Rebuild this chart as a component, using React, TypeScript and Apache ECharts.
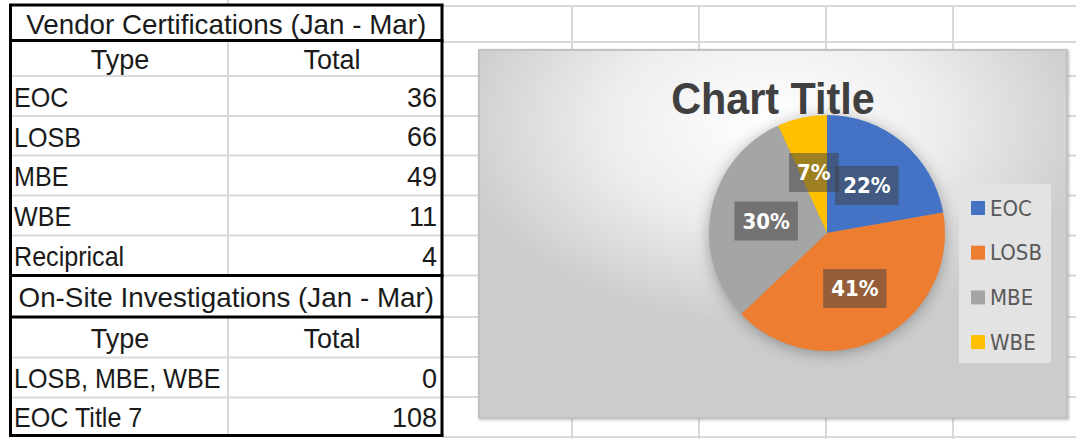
import React, { useEffect, useRef } from "react";
import * as echarts from "echarts";

// ---- data ----
const vendorTitle = "Vendor Certifications (Jan - Mar)";
const onsiteTitle = "On-Site Investigations (Jan - Mar)";
const headerLabels = ["Type", "Total"];
const vendorTypes = ["EOC", "LOSB", "MBE", "WBE", "Reciprical"];
const vendorTotals = [36, 66, 49, 11, 4];
const onsiteTypes = ["LOSB, MBE, WBE", "EOC Title 7"];
const onsiteTotals = [0, 108];
const pieCategories = ["EOC", "LOSB", "MBE", "WBE"];
const pieValues = [36, 66, 49, 11];
const pieColors = ["#4472C4", "#ED7D31", "#A5A5A5", "#FFC000"];
const chartTitle = "Chart Title";

// ---- layout ----
const COND = "'DejaVu Sans Condensed', 'DejaVu Sans', sans-serif";
const SANS = "'Liberation Sans', Arial, sans-serif";
const TABLE_L = 10.5;
const TABLE_R = 442;
const COL_X = 228;
const rowEdges = [5, 40.5, 76, 116, 155.5, 195.5, 235.5, 275.5, 317, 357.5, 397.5, 435.5];
const thickEdges = [0, 1, 7, 8, 11];
const sheetRowsY = [6, 42, 76, 116, 155.5, 195.5, 235.5, 275.5, 317, 357, 397, 437];
const sheetColsX = [572, 699, 826, 953];
const BOX = { x: 479, y: 50, w: 588, h: 368 };
const PIE_CX = 827;
const PIE_CY = 233;
const PIE_R = 118;
const GRID_COLOR = "#D9D9D9";

function buildGraphics() {
  const els: any[] = [];
  // spreadsheet grid
  sheetRowsY.forEach((y) =>
    els.push({ type: "line", z: 0, silent: true, shape: { x1: TABLE_R, y1: y, x2: 1076, y2: y }, style: { stroke: GRID_COLOR, lineWidth: 2 } })
  );
  sheetColsX.forEach((x) =>
    els.push({ type: "line", z: 0, silent: true, shape: { x1: x, y1: 6, x2: x, y2: 439 }, style: { stroke: GRID_COLOR, lineWidth: 2 } })
  );
  // table inner gray lines
  rowEdges.forEach((y, i) => {
    if (thickEdges.indexOf(i) < 0) {
      els.push({ type: "line", z: 0, silent: true, shape: { x1: TABLE_L, y1: y, x2: TABLE_R, y2: y }, style: { stroke: GRID_COLOR, lineWidth: 2 } });
    }
  });
  els.push({ type: "line", z: 0, silent: true, shape: { x1: COL_X, y1: 0, x2: COL_X, y2: rowEdges[0] }, style: { stroke: GRID_COLOR, lineWidth: 2 } });
  els.push({ type: "line", z: 0, silent: true, shape: { x1: COL_X, y1: rowEdges[1], x2: COL_X, y2: rowEdges[7] }, style: { stroke: GRID_COLOR, lineWidth: 2 } });
  els.push({ type: "line", z: 0, silent: true, shape: { x1: COL_X, y1: rowEdges[8], x2: COL_X, y2: rowEdges[11] }, style: { stroke: GRID_COLOR, lineWidth: 2 } });
  // table thick borders
  thickEdges.forEach((i) =>
    els.push({ type: "line", z: 0.5, silent: true, shape: { x1: TABLE_L - 1.5, y1: rowEdges[i], x2: TABLE_R + 1.5, y2: rowEdges[i] }, style: { stroke: "#000", lineWidth: 3 } })
  );
  [TABLE_L, TABLE_R].forEach((x) =>
    els.push({ type: "line", z: 0.5, silent: true, shape: { x1: x, y1: rowEdges[0], x2: x, y2: rowEdges[11] }, style: { stroke: "#000", lineWidth: 3 } })
  );

  const txt = (text: string, x: number, y: number, align: string, sx = 1) => ({
    type: "text",
    z: 0.6,
    silent: true,
    x,
    y,
    scaleX: sx,
    style: { text, fill: "#1A1A1A", font: `27px ${SANS}`, align, verticalAlign: "middle" },
  });
  const rowMid = (i: number) => (rowEdges[i] + rowEdges[i + 1]) / 2 + 1.5;
  const midX = (TABLE_L + TABLE_R) / 2;
  els.push(txt(vendorTitle, midX, rowMid(0), "center", 1.03));
  els.push(txt(headerLabels[0], 120, rowMid(1), "center"));
  els.push(txt(headerLabels[1], 332, rowMid(1), "center"));
  vendorTypes.forEach((t, i) => {
    els.push(txt(t, 14, rowMid(2 + i), "left", 0.93));
    els.push(txt(String(vendorTotals[i]), 437, rowMid(2 + i), "right"));
  });
  els.push(txt(onsiteTitle, midX, rowMid(7), "center", 1.03));
  els.push(txt(headerLabels[0], 120, rowMid(8), "center"));
  els.push(txt(headerLabels[1], 332, rowMid(8), "center"));
  onsiteTypes.forEach((t, i) => {
    els.push(txt(t, 14, rowMid(9 + i), "left", 0.93));
    els.push(txt(String(onsiteTotals[i]), 437, rowMid(9 + i), "right"));
  });

  // chart area
  els.push({
    type: "rect",
    z: 1,
    silent: true,
    shape: { x: BOX.x, y: BOX.y, width: BOX.w, height: BOX.h },
    style: {
      fill: {
        type: "radial",
        x: 0.5,
        y: 0.2,
        r: 0.55,
        colorStops: [
          { offset: 0, color: "#FFFFFF" },
          { offset: 0.5, color: "#EEEEEE" },
          { offset: 1, color: "#CCCCCC" },
        ],
      },
      stroke: "#C2C2C2",
      lineWidth: 2,
      shadowBlur: 3,
      shadowOffsetX: 1,
      shadowOffsetY: 1,
      shadowColor: "rgba(0,0,0,0.25)",
    },
  });
  // soft shadow behind the pie
  els.push({
    type: "circle",
    z: 1.2,
    silent: true,
    shape: { cx: PIE_CX, cy: PIE_CY, r: PIE_R - 1 },
    style: { fill: "#999", shadowBlur: 16, shadowColor: "rgba(0,0,0,0.35)", shadowOffsetX: 0, shadowOffsetY: 2 },
  });
  // legend box
  els.push({
    type: "rect",
    z: 1.3,
    silent: true,
    shape: { x: 959, y: 184, width: 92, height: 179 },
    style: { fill: "#E3E3E3" },
  });
  // chart title
  els.push({
    type: "text",
    z: 3,
    silent: true,
    x: BOX.x + BOX.w / 2,
    y: 99,
    scaleX: 0.94,
    style: { text: chartTitle, fill: "#404040", font: `bold 44px ${SANS}`, align: "center", verticalAlign: "middle" },
  });
  return els;
}

export default function App() {
  const ref = useRef<HTMLDivElement>(null);
  useEffect(() => {
    if (!ref.current) return;
    const chart = echarts.init(ref.current, undefined, { renderer: "svg" });
    chart.setOption({
      animation: false,
      backgroundColor: "#FFFFFF",
      graphic: { elements: buildGraphics() },
      legend: {
        orient: "vertical",
        left: 971,
        top: 197,
        padding: 0,
        itemWidth: 14,
        itemHeight: 14,
        itemGap: 22.7,
        icon: "rect",
        selectedMode: false,
        data: pieCategories,
        textStyle: { fontSize: 22, lineHeight: 22, color: "#595959", fontFamily: COND },
      },
      series: [
        {
          type: "pie",
          center: [PIE_CX, PIE_CY],
          radius: PIE_R,
          startAngle: 90,
          clockwise: true,
          silent: true,
          avoidLabelOverlap: false,
          minShowLabelAngle: 0,
          labelLayout: { hideOverlap: false },
          data: pieCategories.map((name, i) => ({ name, value: pieValues[i], itemStyle: { color: pieColors[i] } })),
          label: {
            show: true,
            position: "inside",
            formatter: (p: any) => Math.round(p.percent) + "%",
            color: "#FFFFFF",
            fontSize: 22,
            fontWeight: "bold",
            fontFamily: COND,
            backgroundColor: "rgba(64,64,64,0.5)",
            padding: [9, 8, 8, 8],
          },
          labelLine: { show: false },
        },
      ],
    });
    return () => chart.dispose();
  }, []);
  return (
    <div
      ref={ref}
      style={{ position: "absolute", left: 0, top: 0, width: 1076, height: 439, background: "#fff" }}
    />
  );
}
